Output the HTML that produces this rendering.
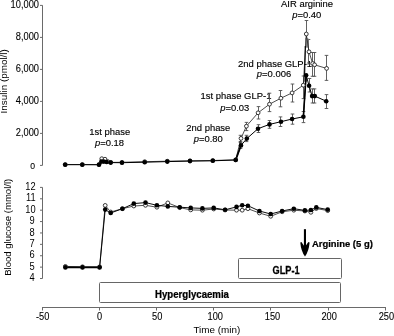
<!DOCTYPE html><html><head><meta charset="utf-8"><style>html,body{margin:0;padding:0;background:#fff;}svg{display:block;will-change:transform;}text{font-family:"Liberation Sans",sans-serif;fill:#000;stroke:#000;stroke-width:0.15px;} text.ax{stroke:none;} text.ax2{stroke:#000;stroke-width:0.1px;} text.b{stroke:#000;stroke-width:0.25px;}</style></head><body>
<svg width="394" height="336" viewBox="0 0 394 336">
<g stroke="#6a6a6a" stroke-width="1" fill="none">
<path d="M42.5 5.3V165.4"/>
<path d="M40 165.40H42.5"/>
<path d="M40 133.40H42.5"/>
<path d="M40 101.40H42.5"/>
<path d="M40 69.40H42.5"/>
<path d="M40 37.40H42.5"/>
<path d="M40 5.40H42.5"/>
<path d="M42.5 187.4V278.5"/>
<path d="M40 278.52H42.5"/>
<path d="M40 267.13H42.5"/>
<path d="M40 255.74H42.5"/>
<path d="M40 244.35H42.5"/>
<path d="M40 232.96H42.5"/>
<path d="M40 221.57H42.5"/>
<path d="M40 210.18H42.5"/>
<path d="M40 198.79H42.5"/>
<path d="M40 187.40H42.5"/>
<path d="M42 307.5H386"/>
<path d="M42.5 307.5V310.5"/>
<path d="M99.5 307.5V310.5"/>
<path d="M156.5 307.5V310.5"/>
<path d="M213.5 307.5V310.5"/>
<path d="M270.5 307.5V310.5"/>
<path d="M328.5 307.5V310.5"/>
<path d="M385.5 307.5V310.5"/>
</g>
<text class="ax2" transform="translate(35.0,168.5) scale(0.93,1)" font-size="9.3" text-anchor="end">0</text>
<text class="ax2" transform="translate(39.0,136.2) scale(0.93,1)" font-size="10.0" text-anchor="end">2,000</text>
<text class="ax2" transform="translate(39.0,104.2) scale(0.93,1)" font-size="10.0" text-anchor="end">4,000</text>
<text class="ax2" transform="translate(39.0,72.2) scale(0.93,1)" font-size="10.0" text-anchor="end">6,000</text>
<text class="ax2" transform="translate(39.0,40.2) scale(0.93,1)" font-size="10.0" text-anchor="end">8,000</text>
<text class="ax2" transform="translate(39.0,8.2) scale(0.93,1)" font-size="10.0" text-anchor="end">10,000</text>
<text class="ax" transform="translate(34.6,281.12) scale(0.93,1)" font-size="10.0" text-anchor="end">4</text>
<text class="ax" transform="translate(34.6,269.73) scale(0.93,1)" font-size="10.0" text-anchor="end">5</text>
<text class="ax" transform="translate(34.6,258.34) scale(0.93,1)" font-size="10.0" text-anchor="end">6</text>
<text class="ax" transform="translate(34.6,246.95) scale(0.93,1)" font-size="10.0" text-anchor="end">7</text>
<text class="ax" transform="translate(34.6,235.56) scale(0.93,1)" font-size="10.0" text-anchor="end">8</text>
<text class="ax" transform="translate(34.6,224.17) scale(0.93,1)" font-size="10.0" text-anchor="end">9</text>
<text class="ax" transform="translate(35.6,212.78) scale(0.93,1)" font-size="10.0" text-anchor="end">10</text>
<text class="ax" transform="translate(35.6,201.39) scale(0.93,1)" font-size="10.0" text-anchor="end">11</text>
<text class="ax" transform="translate(35.6,190.0) scale(0.93,1)" font-size="10.0" text-anchor="end">12</text>
<text class="ax2" transform="translate(42.6,319.6) scale(0.9,1)" font-size="10.3" text-anchor="middle">-50</text>
<text class="ax2" transform="translate(99.53,319.6) scale(0.9,1)" font-size="10.3" text-anchor="middle">0</text>
<text class="ax2" transform="translate(157.26,319.6) scale(0.9,1)" font-size="10.3" text-anchor="middle">50</text>
<text class="ax2" transform="translate(215.29,319.6) scale(0.9,1)" font-size="10.3" text-anchor="middle">100</text>
<text class="ax2" transform="translate(272.52,319.6) scale(0.9,1)" font-size="10.3" text-anchor="middle">150</text>
<text class="ax2" transform="translate(329.15,319.6) scale(0.9,1)" font-size="10.3" text-anchor="middle">200</text>
<text class="ax2" transform="translate(386.38,319.6) scale(0.9,1)" font-size="10.3" text-anchor="middle">250</text>
<text class="ax" transform="translate(216.8,333) scale(1.0,1)" font-size="9.9" text-anchor="middle">Time (min)</text>
<text class="ax" transform="translate(7.4,81.3) rotate(-90) scale(1.0,1)" font-size="9.9" text-anchor="middle">Insulin (pmol/l)</text>
<text class="ax" transform="translate(10.9,227.3) rotate(-90) scale(0.965,1)" font-size="9.9" text-anchor="middle">Blood glucose (mmol/l)</text>
<g fill="none" stroke="#666" stroke-width="1">
<rect x="99.5" y="282.5" width="241" height="20" rx="1"/>
<rect x="238.5" y="258.5" width="103" height="20" rx="1"/>
</g>
<text class="b" transform="translate(192,297.8) scale(0.965,1)" font-size="10.0" font-weight="bold" text-anchor="middle">Hyperglycaemia</text>
<text class="b" transform="translate(286.1,274.4) scale(0.92,1)" font-size="10.0" font-weight="bold" text-anchor="middle">GLP-1</text>
<text class="b" transform="translate(312,247.1) scale(0.955,1)" font-size="9.9" font-weight="bold">Arginine (5 g)</text>
<path d="M303.9 229.2H306V246H303.9Z" fill="#000"/>
<path d="M300.3 242.4L301.4 242.0L303.8 245.6L305.9 245.6L308.4 242.0L309.6 242.4Q308.9 251 305 256.5Q301 251 300.3 242.4Z" fill="#000"/>
<text transform="translate(109.7,135.2) scale(0.955,1)" font-size="9.9" text-anchor="middle">1st phase</text>
<text transform="translate(109.5,146.1) scale(0.955,1)" font-size="9.9" text-anchor="middle"><tspan font-style="italic">p</tspan>=0.18</text>
<text transform="translate(208.3,130.7) scale(0.955,1)" font-size="9.9" text-anchor="middle">2nd phase</text>
<text transform="translate(208.3,141.6) scale(0.955,1)" font-size="9.9" text-anchor="middle"><tspan font-style="italic">p</tspan>=0.80</text>
<text transform="translate(200.6,98.7) scale(0.955,1)" font-size="9.9">1st phase GLP-1</text>
<text transform="translate(234.7,110.5) scale(0.955,1)" font-size="9.9" text-anchor="middle"><tspan font-style="italic">p</tspan>=0.03</text>
<text transform="translate(238.1,66.5) scale(0.955,1)" font-size="9.9">2nd phase GLP-1</text>
<text transform="translate(274,77.4) scale(0.955,1)" font-size="9.9" text-anchor="middle"><tspan font-style="italic">p</tspan>=0.006</text>
<text transform="translate(307,7.1) scale(0.955,1)" font-size="9.9" text-anchor="middle">AIR arginine</text>
<text transform="translate(306.8,17.8) scale(0.955,1)" font-size="9.9" text-anchor="middle"><tspan font-style="italic">p</tspan>=0.40</text>
<g stroke="#505050" stroke-width="0.9" fill="none">
<path d="M240.5 135.3V141.5M238.7 135.3H242.3M238.7 141.5H242.3"/>
<path d="M246.5 122.4V130.6M244.7 122.4H248.3M244.7 130.6H248.3"/>
<path d="M258.5 106.6V119.0M256.7 106.6H260.3M256.7 119.0H260.3"/>
<path d="M269.5 93.2V111.6M267.7 93.2H271.3M267.7 111.6H271.3"/>
<path d="M280.5 90.5V106.8M278.7 90.5H282.3M278.7 106.8H282.3"/>
<path d="M292.5 84.0V102.0M290.7 84.0H294.3M290.7 102.0H294.3"/>
<path d="M303.5 76V98.6M301.7 76H305.3M301.7 98.6H305.3"/>
<path d="M306.5 20.5V47M304.7 20.5H308.3M304.7 47H308.3"/>
<path d="M308.5 39.5V64M306.7 39.5H310.3M306.7 64H310.3"/>
<path d="M312.5 52.5V76.3M310.7 52.5H314.3M310.7 76.3H314.3"/>
<path d="M314.5 52.5V76.3M312.7 52.5H316.3M312.7 76.3H316.3"/>
<path d="M326.5 55.4V80.4M324.7 55.4H328.3M324.7 80.4H328.3"/>
</g>
<g stroke="#505050" stroke-width="0.9" fill="none">
<path d="M246.5 135.3V141.6M244.7 135.3H248.3M244.7 141.6H248.3"/>
<path d="M258.5 124.7V132.5M256.7 124.7H260.3M256.7 132.5H260.3"/>
<path d="M269.5 120.5V128.3M267.7 120.5H271.3M267.7 128.3H271.3"/>
<path d="M280.5 116.9V126.5M278.7 116.9H282.3M278.7 126.5H282.3"/>
<path d="M292.5 114.0V124.2M290.7 114.0H294.3M290.7 124.2H294.3"/>
<path d="M303.5 111.5V122.6M301.7 111.5H305.3M301.7 122.6H305.3"/>
<path d="M309.5 78.5V92M307.7 78.5H311.3M307.7 92H311.3"/>
<path d="M312.5 88.9V103M310.7 88.9H314.3M310.7 103H314.3"/>
<path d="M314.5 88.9V103M312.7 88.9H316.3M312.7 103H316.3"/>
<path d="M326.5 94.6V108.5M324.7 94.6H328.3M324.7 108.5H328.3"/>
<path d="M240.5 142.5V148.5M238.7 142.5H242.3M238.7 148.5H242.3"/>
</g>
<path d="M305.3 37.8L308.6 38.5L308.4 47L305.2 47Z" fill="#8a8a8a"/>
<path d="M303.2 76.5L307.2 76.5L307 81.8L303.4 81.8Z" fill="#777"/>
<path d="M65.2 164.5 L82.3 164.5 L99.0 164.5 L101.8 158.7 L105.0 159.2 L107.8 161.6 L110.7 162.4 L122.0 162.3 L144.7 161.7 L167.3 161.2 L190.0 160.8 L212.8 160.5 L235.7 159.8 L241.0 138.4 L246.4 126.2 L258.1 112.8 L269.5 104.2 L280.9 98.2 L292.1 92.9 L303.3 85.2 L306.3 34.0 L309.0 51.8 L312.7 63.5 L314.6 64.8 L326.6 68.4" fill="none" stroke="#222" stroke-width="0.8" stroke-linejoin="round"/>
<path d="M65.2 164.7 L82.3 164.7 L99.0 164.8 L101.4 161.6 L103.8 161.6 L106.6 162.0 L110.7 162.6 L122.0 162.7 L144.7 162.2 L167.3 161.6 L190.0 161.1 L212.8 160.8 L235.7 160.0 L241.0 145.4 L246.8 138.6 L258.0 128.7 L269.5 124.4 L281.0 121.7 L292.1 119.0 L303.4 116.8 L306.1 75.2 L309.1 85.8 L312.1 96.1 L314.8 96.1 L326.2 101.2" fill="none" stroke="#000" stroke-width="1.0" stroke-linejoin="round"/>
<path d="M303.4 116.8L306.1 75.2" stroke="#000" stroke-width="1.6"/><path d="M235.7 160L241 145.4" stroke="#000" stroke-width="1.7"/>
<circle cx="65.2" cy="164.5" r="1.9" fill="#fff" stroke="#222" stroke-width="0.9"/>
<circle cx="82.3" cy="164.5" r="1.9" fill="#fff" stroke="#222" stroke-width="0.9"/>
<circle cx="99.0" cy="164.5" r="1.9" fill="#fff" stroke="#222" stroke-width="0.9"/>
<circle cx="101.8" cy="158.7" r="1.9" fill="#fff" stroke="#222" stroke-width="0.9"/>
<circle cx="105.0" cy="159.2" r="1.9" fill="#fff" stroke="#222" stroke-width="0.9"/>
<circle cx="107.8" cy="161.6" r="1.9" fill="#fff" stroke="#222" stroke-width="0.9"/>
<circle cx="110.7" cy="162.4" r="1.9" fill="#fff" stroke="#222" stroke-width="0.9"/>
<circle cx="122.0" cy="162.3" r="1.9" fill="#fff" stroke="#222" stroke-width="0.9"/>
<circle cx="144.7" cy="161.7" r="1.9" fill="#fff" stroke="#222" stroke-width="0.9"/>
<circle cx="167.3" cy="161.2" r="1.9" fill="#fff" stroke="#222" stroke-width="0.9"/>
<circle cx="190.0" cy="160.8" r="1.9" fill="#fff" stroke="#222" stroke-width="0.9"/>
<circle cx="212.8" cy="160.5" r="1.9" fill="#fff" stroke="#222" stroke-width="0.9"/>
<circle cx="235.7" cy="159.8" r="1.9" fill="#fff" stroke="#222" stroke-width="0.9"/>
<circle cx="241.0" cy="138.4" r="1.9" fill="#fff" stroke="#222" stroke-width="0.9"/>
<circle cx="246.4" cy="126.2" r="1.9" fill="#fff" stroke="#222" stroke-width="0.9"/>
<circle cx="258.1" cy="112.8" r="1.9" fill="#fff" stroke="#222" stroke-width="0.9"/>
<circle cx="269.5" cy="104.2" r="1.9" fill="#fff" stroke="#222" stroke-width="0.9"/>
<circle cx="280.9" cy="98.2" r="1.9" fill="#fff" stroke="#222" stroke-width="0.9"/>
<circle cx="292.1" cy="92.9" r="1.9" fill="#fff" stroke="#222" stroke-width="0.9"/>
<circle cx="303.3" cy="85.2" r="1.9" fill="#fff" stroke="#222" stroke-width="0.9"/>
<circle cx="306.3" cy="34.0" r="1.9" fill="#fff" stroke="#222" stroke-width="0.9"/>
<circle cx="309.0" cy="51.8" r="1.9" fill="#fff" stroke="#222" stroke-width="0.9"/>
<circle cx="312.7" cy="63.5" r="1.9" fill="#fff" stroke="#222" stroke-width="0.9"/>
<circle cx="314.6" cy="64.8" r="1.9" fill="#fff" stroke="#222" stroke-width="0.9"/>
<circle cx="326.6" cy="68.4" r="1.9" fill="#fff" stroke="#222" stroke-width="0.9"/>
<circle cx="65.2" cy="164.7" r="2.3" fill="#000"/>
<circle cx="82.3" cy="164.7" r="2.3" fill="#000"/>
<circle cx="99.0" cy="164.8" r="2.3" fill="#000"/>
<circle cx="101.4" cy="161.6" r="2.3" fill="#000"/>
<circle cx="103.8" cy="161.6" r="2.3" fill="#000"/>
<circle cx="106.6" cy="162.0" r="2.3" fill="#000"/>
<circle cx="110.7" cy="162.6" r="2.3" fill="#000"/>
<circle cx="122.0" cy="162.7" r="2.3" fill="#000"/>
<circle cx="144.7" cy="162.2" r="2.3" fill="#000"/>
<circle cx="167.3" cy="161.6" r="2.3" fill="#000"/>
<circle cx="190.0" cy="161.1" r="2.3" fill="#000"/>
<circle cx="212.8" cy="160.8" r="2.3" fill="#000"/>
<circle cx="235.7" cy="160.0" r="2.3" fill="#000"/>
<circle cx="241.0" cy="145.4" r="2.3" fill="#000"/>
<circle cx="246.8" cy="138.6" r="2.3" fill="#000"/>
<circle cx="258.0" cy="128.7" r="2.3" fill="#000"/>
<circle cx="269.5" cy="124.4" r="2.3" fill="#000"/>
<circle cx="281.0" cy="121.7" r="2.3" fill="#000"/>
<circle cx="292.1" cy="119.0" r="2.3" fill="#000"/>
<circle cx="303.4" cy="116.8" r="2.3" fill="#000"/>
<circle cx="306.1" cy="75.2" r="2.3" fill="#000"/>
<circle cx="309.1" cy="85.8" r="2.3" fill="#000"/>
<circle cx="312.1" cy="96.1" r="2.3" fill="#000"/>
<circle cx="314.8" cy="96.1" r="2.3" fill="#000"/>
<circle cx="326.2" cy="101.2" r="2.3" fill="#000"/>
<path d="M65.4 266.4 L82.5 266.8 L99.6 266.9 L105.2 205.4 L110.7 212.0 L122.4 208.7 L133.8 206.0 L145.5 205.3 L156.9 207.2 L167.8 202.9 L179.7 207.6 L190.7 209.9 L202.4 210.2 L213.7 209.0 L225.1 210.0 L236.5 210.2 L242.2 210.2 L247.9 208.7 L259.4 213.0 L270.7 216.3 L282.1 211.8 L293.8 210.2 L304.9 211.0 L310.9 212.3 L316.3 208.5 L327.7 210.6" fill="none" stroke="#222" stroke-width="0.8" stroke-linejoin="round"/>
<path d="M65.4 267.4 L82.5 267.4 L99.6 267.4 L105.2 209.6 L110.7 213.0 L122.4 208.7 L133.8 203.6 L145.5 202.6 L156.9 205.3 L167.8 206.4 L179.7 207.2 L190.7 207.9 L202.4 208.4 L213.7 207.9 L225.1 209.8 L236.5 206.9 L242.2 205.3 L247.9 205.7 L259.4 211.0 L270.7 214.0 L282.1 211.0 L293.8 208.7 L304.9 210.4 L310.9 210.0 L316.3 207.4 L327.7 209.6" fill="none" stroke="#000" stroke-width="0.95" stroke-linejoin="round"/>
<path d="M65.4 267.4H99.6" stroke="#000" stroke-width="1.6"/>
<circle cx="65.4" cy="266.4" r="1.9" fill="#fff" stroke="#222" stroke-width="0.9"/>
<circle cx="82.5" cy="266.8" r="1.9" fill="#fff" stroke="#222" stroke-width="0.9"/>
<circle cx="99.6" cy="266.9" r="1.9" fill="#fff" stroke="#222" stroke-width="0.9"/>
<circle cx="105.2" cy="205.4" r="1.9" fill="#fff" stroke="#222" stroke-width="0.9"/>
<circle cx="110.7" cy="212.0" r="1.9" fill="#fff" stroke="#222" stroke-width="0.9"/>
<circle cx="122.4" cy="208.7" r="1.9" fill="#fff" stroke="#222" stroke-width="0.9"/>
<circle cx="133.8" cy="206.0" r="1.9" fill="#fff" stroke="#222" stroke-width="0.9"/>
<circle cx="145.5" cy="205.3" r="1.9" fill="#fff" stroke="#222" stroke-width="0.9"/>
<circle cx="156.9" cy="207.2" r="1.9" fill="#fff" stroke="#222" stroke-width="0.9"/>
<circle cx="167.8" cy="202.9" r="1.9" fill="#fff" stroke="#222" stroke-width="0.9"/>
<circle cx="179.7" cy="207.6" r="1.9" fill="#fff" stroke="#222" stroke-width="0.9"/>
<circle cx="190.7" cy="209.9" r="1.9" fill="#fff" stroke="#222" stroke-width="0.9"/>
<circle cx="202.4" cy="210.2" r="1.9" fill="#fff" stroke="#222" stroke-width="0.9"/>
<circle cx="213.7" cy="209.0" r="1.9" fill="#fff" stroke="#222" stroke-width="0.9"/>
<circle cx="225.1" cy="210.0" r="1.9" fill="#fff" stroke="#222" stroke-width="0.9"/>
<circle cx="236.5" cy="210.2" r="1.9" fill="#fff" stroke="#222" stroke-width="0.9"/>
<circle cx="242.2" cy="210.2" r="1.9" fill="#fff" stroke="#222" stroke-width="0.9"/>
<circle cx="247.9" cy="208.7" r="1.9" fill="#fff" stroke="#222" stroke-width="0.9"/>
<circle cx="259.4" cy="213.0" r="1.9" fill="#fff" stroke="#222" stroke-width="0.9"/>
<circle cx="270.7" cy="216.3" r="1.9" fill="#fff" stroke="#222" stroke-width="0.9"/>
<circle cx="282.1" cy="211.8" r="1.9" fill="#fff" stroke="#222" stroke-width="0.9"/>
<circle cx="293.8" cy="210.2" r="1.9" fill="#fff" stroke="#222" stroke-width="0.9"/>
<circle cx="304.9" cy="211.0" r="1.9" fill="#fff" stroke="#222" stroke-width="0.9"/>
<circle cx="310.9" cy="212.3" r="1.9" fill="#fff" stroke="#222" stroke-width="0.9"/>
<circle cx="316.3" cy="208.5" r="1.9" fill="#fff" stroke="#222" stroke-width="0.9"/>
<circle cx="327.7" cy="210.6" r="1.9" fill="#fff" stroke="#222" stroke-width="0.9"/>
<circle cx="65.4" cy="267.4" r="2.3" fill="#000"/>
<circle cx="82.5" cy="267.4" r="2.3" fill="#000"/>
<circle cx="99.6" cy="267.4" r="2.3" fill="#000"/>
<circle cx="105.2" cy="209.6" r="2.3" fill="#000"/>
<circle cx="110.7" cy="213.0" r="2.3" fill="#000"/>
<circle cx="122.4" cy="208.7" r="2.3" fill="#000"/>
<circle cx="133.8" cy="203.6" r="2.3" fill="#000"/>
<circle cx="145.5" cy="202.6" r="2.3" fill="#000"/>
<circle cx="156.9" cy="205.3" r="2.3" fill="#000"/>
<circle cx="167.8" cy="206.4" r="2.3" fill="#000"/>
<circle cx="179.7" cy="207.2" r="2.3" fill="#000"/>
<circle cx="190.7" cy="207.9" r="2.3" fill="#000"/>
<circle cx="202.4" cy="208.4" r="2.3" fill="#000"/>
<circle cx="213.7" cy="207.9" r="2.3" fill="#000"/>
<circle cx="225.1" cy="209.8" r="2.3" fill="#000"/>
<circle cx="236.5" cy="206.9" r="2.3" fill="#000"/>
<circle cx="242.2" cy="205.3" r="2.3" fill="#000"/>
<circle cx="247.9" cy="205.7" r="2.3" fill="#000"/>
<circle cx="259.4" cy="211.0" r="2.3" fill="#000"/>
<circle cx="270.7" cy="214.0" r="2.3" fill="#000"/>
<circle cx="282.1" cy="211.0" r="2.3" fill="#000"/>
<circle cx="293.8" cy="208.7" r="2.3" fill="#000"/>
<circle cx="304.9" cy="210.4" r="2.3" fill="#000"/>
<circle cx="310.9" cy="210.0" r="2.3" fill="#000"/>
<circle cx="316.3" cy="207.4" r="2.3" fill="#000"/>
<circle cx="327.7" cy="209.6" r="2.3" fill="#000"/>
<path d="M305.3 46L304.6 76" stroke="#000" stroke-width="1.1" fill="none"/>
</svg></body></html>
